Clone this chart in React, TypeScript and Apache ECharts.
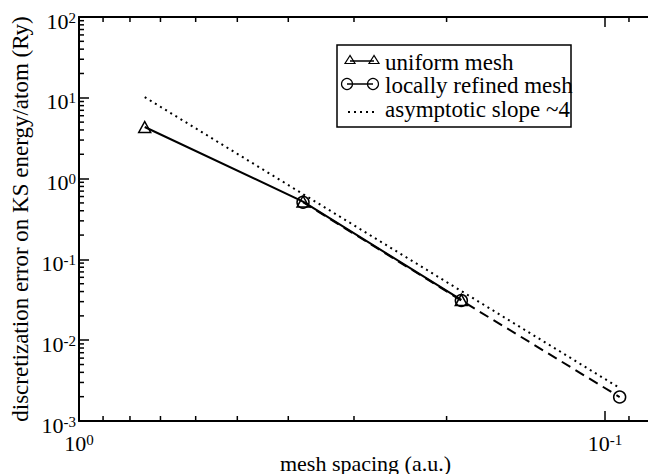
import React, { useEffect, useRef } from "react";
import * as echarts from "echarts";

// ---- data ----
const uniformX = [0.75, 0.375, 0.1875];
const uniformY = [4.35, 0.52, 0.0315];
const refinedX = [0.375, 0.1875, 0.09375];
const refinedY = [0.51, 0.031, 0.00198];
const slopeX = [0.75, 0.09375];
const slopeY = [10.2, 0.00256];

const seriesNames = ["uniform mesh", "locally refined mesh", "asymptotic slope ~4"];

// axis ranges
const xMin = 0.08137;
const xMax = 1;
const yMin = 0.001;
const yMax = 100;

// minor ticks (log spaced)
const minorMantissas = [2, 3, 4, 5, 6, 7, 8, 9];
const xMinorTicks = [0.9, 0.8, 0.7, 0.6, 0.5, 0.4, 0.3, 0.2, 0.09];
const yDecades = [0.001, 0.01, 0.1, 1, 10];
const yMinorTicks = yDecades.flatMap((d) => minorMantissas.map((m) => m * d));

const FONT = "Liberation Serif, Times New Roman, serif";

const supLabel = (v: number) => {
  const e = Math.log10(v);
  const r = Math.round(e);
  if (Math.abs(e - r) > 1e-6) return "";
  return `{b|10}{s|${r}}`;
};

const rich = {
  b: { fontSize: 22, fontFamily: FONT, color: "#000", lineHeight: 22, verticalAlign: "bottom" },
  s: { fontSize: 15, fontFamily: FONT, color: "#000", lineHeight: 15, verticalAlign: "top", padding: [0, 0, 14, 0] },
};

export default function App() {
  const ref = useRef<HTMLDivElement>(null);
  useEffect(() => {
    if (!ref.current) return;
    const chart = echarts.init(ref.current, undefined, { renderer: "svg" });
    const axisLine = { show: true, lineStyle: { color: "#000", width: 2 } };
    const axisTick = { show: true, inside: true, length: 10, lineStyle: { color: "#000", width: 1.5 } };
    const option: any = {
      animation: false,
      backgroundColor: "#fff",
      textStyle: { fontFamily: FONT },
      grid: { left: 79, right: -4, top: 17, bottom: 53, containLabel: false, outerBoundsMode: "none" },
      xAxis: [
        {
          type: "log",
          logBase: 10,
          min: xMin,
          max: xMax,
          inverse: true,
          position: "bottom",
          axisLine,
          axisTick,
          splitLine: { show: false },
          axisLabel: { formatter: supLabel, rich, margin: 11 },
          name: "mesh spacing (a.u.)",
          nameLocation: "middle",
          nameGap: 31,
          nameMoveOverlap: false,
          nameTextStyle: { fontSize: 22, fontFamily: FONT, color: "#000" },
        },
        {
          type: "log",
          logBase: 10,
          min: xMin,
          max: xMax,
          inverse: true,
          position: "top",
          axisLine,
          axisTick,
          splitLine: { show: false },
          axisLabel: { show: false },
        },
      ],
      yAxis: [
        {
          type: "log",
          logBase: 10,
          min: yMin,
          max: yMax,
          position: "left",
          axisLine,
          axisTick,
          splitLine: { show: false },
          axisLabel: { formatter: supLabel, rich, margin: 3, padding: [8, 0, 0, 0] },
          name: "discretization error on KS energy/atom (Ry)",
          nameLocation: "middle",
          nameGap: 47,
          nameMoveOverlap: false,
          nameTextStyle: { fontSize: 23, fontFamily: FONT, color: "#000" },
        },
      ],
      series: [
        {
          name: seriesNames[2],
          type: "line",
          data: slopeX.map((x, i) => [x, slopeY[i]]),
          symbol: "none",
          lineStyle: { color: "#000", width: 2, type: [2, 4] },
          silent: true,
          z: 2,
        },
        {
          name: seriesNames[0],
          type: "line",
          data: uniformX.map((x, i) => [x, uniformY[i]]),
          symbol: "triangle",
          symbolSize: [12, 11],
          itemStyle: { color: "rgba(0,0,0,0)", borderColor: "#000", borderWidth: 1.5 },
          lineStyle: { color: "#000", width: 2 },
          silent: true,
          z: 3,
        },
        {
          name: seriesNames[1],
          type: "line",
          data: refinedX.map((x, i) => [x, refinedY[i]]),
          symbol: "circle",
          symbolSize: 12,
          itemStyle: { color: "rgba(0,0,0,0)", borderColor: "#000", borderWidth: 1.5 },
          lineStyle: { color: "#000", width: 2, type: [10, 6] },
          silent: true,
          z: 4,
        },
        {
          type: "custom",
          silent: true,
          clip: false,
          data: xMinorTicks.map((v) => [v, 1]),
          encode: { x: 0, y: 1 },
          renderItem: (params: any, api: any) => {
            const cs = params.coordSys;
            const x = api.coord([api.value(0), 1])[0];
            const st = { stroke: "#000", lineWidth: 1.5 };
            return {
              type: "group",
              children: [
                { type: "line", shape: { x1: x, y1: cs.y + cs.height, x2: x, y2: cs.y + cs.height - 5 }, style: st },
                { type: "line", shape: { x1: x, y1: cs.y, x2: x, y2: cs.y + 5 }, style: st },
              ],
            };
          },
        },
        {
          type: "custom",
          silent: true,
          clip: false,
          data: yMinorTicks.map((v) => [1, v]),
          encode: { x: 0, y: 1 },
          renderItem: (params: any, api: any) => {
            const cs = params.coordSys;
            const y = api.coord([1, api.value(1)])[1];
            const st = { stroke: "#000", lineWidth: 1.5 };
            return {
              type: "line",
              shape: { x1: cs.x, y1: y, x2: cs.x + 5, y2: y },
              style: st,
            };
          },
        },
      ],
      graphic: [
        { type: "rect", shape: { x: 337, y: 45, width: 234, height: 82 }, style: { fill: "none", stroke: "#000", lineWidth: 1.5 } },
        { type: "line", shape: { x1: 350, y1: 61, x2: 374, y2: 61 }, style: { stroke: "#000", lineWidth: 1.5 } },
        { type: "polygon", shape: { points: [[350, 55.5], [345, 63.5], [355, 63.5]] }, style: { fill: "none", stroke: "#000", lineWidth: 1.2 } },
        { type: "polygon", shape: { points: [[374, 55.5], [369, 63.5], [379, 63.5]] }, style: { fill: "none", stroke: "#000", lineWidth: 1.2 } },
        { type: "line", shape: { x1: 347, y1: 84, x2: 373, y2: 84 }, style: { stroke: "#000", lineWidth: 1.5 } },
        { type: "circle", shape: { cx: 347, cy: 84, r: 5.5 }, style: { fill: "none", stroke: "#000", lineWidth: 1.2 } },
        { type: "circle", shape: { cx: 373, cy: 84, r: 5.5 }, style: { fill: "none", stroke: "#000", lineWidth: 1.2 } },
        { type: "line", shape: { x1: 348, y1: 112, x2: 374, y2: 112 }, style: { stroke: "#000", lineWidth: 2, lineDash: [2, 4] } },
        { type: "text", x: 385, y: 62.5, style: { text: seriesNames[0], fontSize: 23, fontFamily: FONT, fill: "#000", verticalAlign: "middle" } },
        { type: "text", x: 385, y: 85, style: { text: seriesNames[1], fontSize: 23, fontFamily: FONT, fill: "#000", verticalAlign: "middle" } },
        { type: "text", x: 385, y: 109, style: { text: seriesNames[2], fontSize: 23, fontFamily: FONT, fill: "#000", verticalAlign: "middle" } },
      ],
    };
    chart.setOption(option);
    return () => chart.dispose();
  }, []);
  return <div ref={ref} style={{ width: 648, height: 474, position: "absolute", left: 0, top: 0 }} />;
}
